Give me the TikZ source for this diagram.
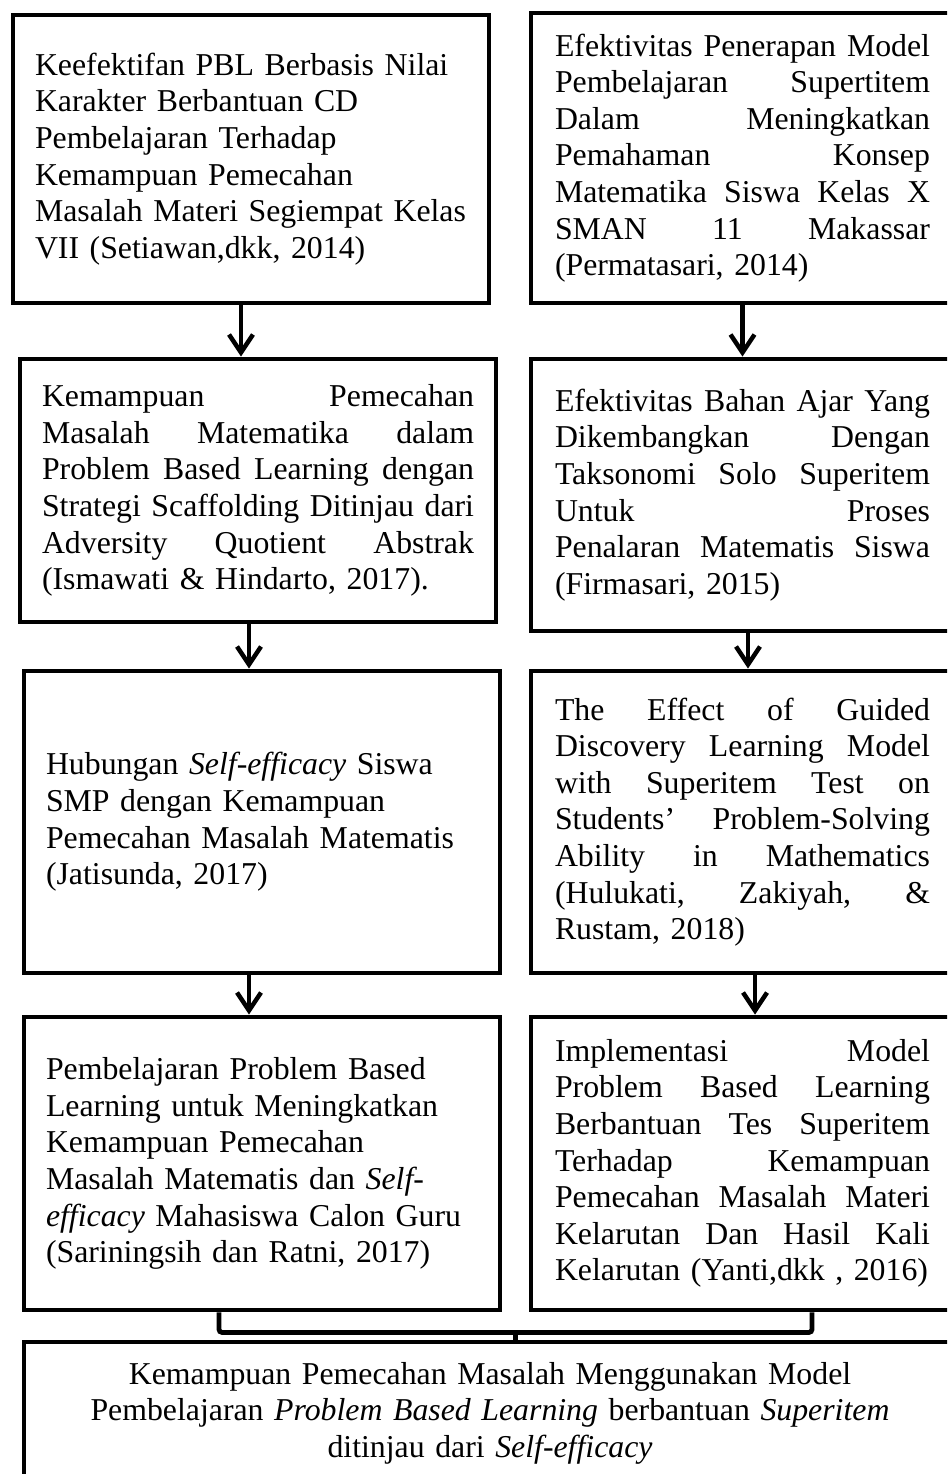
\documentclass[tikz,border=0pt]{standalone}
\usepackage{fontspec}
\setmainfont{Liberation Serif}
\usepackage{tikz}
\usetikzlibrary{calc}
\usetikzlibrary{arrows.meta}

\newcommand{\jline}[1]{\makebox[\hsize][s]{\spaceskip=0pt\relax\xspaceskip=0pt\relax#1}\\}

\tikzset{
	paper/.style={draw, rectangle, line width=4.8pt, align=left,
		font=\fontsize{31.8pt}{36.6pt}\selectfont},
	lbox/.style={paper, text width=432pt, inner xsep=22pt, minimum width=476pt},
	rbox/.style={paper, text width=375pt, inner xsep=24pt, minimum width=423pt},
	flow/.style={line width=4.5pt, -{Straight Barb[length=18pt,width=24pt]}},
	joint/.style={line width=4.8pt, rounded corners=3pt}
}

\begin{document}
\begin{tikzpicture}[x=1pt,y=-1pt]
	\clip (0,0) rectangle (947,1474);
	% left column
	\node[lbox, minimum height=288pt] (L1) at (251,159)
	{
		Keefektifan PBL Berbasis Nilai\\
		Karakter Berbantuan CD\\
		Pembelajaran Terhadap\\
		Kemampuan Pemecahan\\
		Masalah Materi Segiempat Kelas\\
		VII (Setiawan,dkk, 2014)
	};
	\node[lbox, minimum height=263pt] (L2) at (258,490.5)
	{
		\jline{Kemampuan Pemecahan}
		\jline{Masalah Matematika dalam}
		\jline{Problem Based Learning dengan}
		\jline{Strategi Scaffolding Ditinjau dari}
		\jline{Adversity Quotient Abstrak}
		(Ismawati \& Hindarto, 2017).
	};
	\node[lbox, minimum height=302pt] (L3) at (262,822)
	{
		Hubungan \textit{Self-efficacy} Siswa\\
		SMP dengan Kemampuan\\
		Pemecahan Masalah Matematis\\
		(Jatisunda, 2017)
	};
	\node[lbox, minimum height=293pt] (L4) at (262,1163.5)
	{
		Pembelajaran Problem Based\\
		Learning untuk Meningkatkan\\
		Kemampuan Pemecahan\\
		Masalah Matematis dan \textit{Self-}\\
		\textit{efficacy} Mahasiswa Calon Guru\\
		(Sariningsih dan Ratni, 2017)
	};
	% right column
	\node[rbox, minimum height=290pt] (R1) at (742.5,158)
	{
		\jline{Efektivitas Penerapan Model}
		\jline{Pembelajaran Supertitem}
		\jline{Dalam Meningkatkan}
		\jline{Pemahaman Konsep}
		\jline{Matematika Siswa Kelas X}
		\jline{SMAN 11 Makassar}
		(Permatasari, 2014)
	};
	\node[rbox, minimum height=272pt] (R2) at (742.5,495)
	{
		\jline{Efektivitas Bahan Ajar Yang}
		\jline{Dikembangkan Dengan}
		\jline{Taksonomi Solo Superitem}
		\jline{Untuk Proses}
		\jline{Penalaran Matematis Siswa}
		(Firmasari, 2015)
	};
	\node[rbox, minimum height=302pt] (R3) at (742.5,822)
	{
		\jline{The Effect of Guided}
		\jline{Discovery Learning Model}
		\jline{with Superitem Test on}
		\jline{Students’ Problem-Solving}
		\jline{Ability in Mathematics}
		\jline{(Hulukati, Zakiyah, \&}
		Rustam, 2018)
	};
	\node[rbox, minimum height=293pt] (R4) at (742.5,1163.5)
	{
		\jline{Implementasi Model}
		\jline{Problem Based Learning}
		\jline{Berbantuan Tes Superitem}
		\jline{Terhadap Kemampuan}
		\jline{Pemecahan Masalah Materi}
		\jline{Kelarutan Dan Hasil Kali}
		Kelarutan (Yanti,dkk , 2016)
	};
	% result
	\node[paper, align=center, text width=884pt, inner xsep=24pt,
	minimum width=932pt, minimum height=142pt] (B) at (490,1413)
	{
		Kemampuan Pemecahan Masalah Menggunakan Model\\
		Pembelajaran \textit{Problem Based Learning} berbantuan \textit{Superitem}\\
		ditinjau dari \textit{Self-efficacy}
	};
	% arrows
	\coordinate (a1) at ([xshift=-10pt]L1.south);
	\coordinate (a2) at ([xshift=-9pt]L2.south);
	\coordinate (a3) at ([xshift=-13pt]L3.south);
	\coordinate (b1) at ([xshift=0pt]R1.south);
	\coordinate (b2) at ([xshift=5.5pt]R2.south);
	\coordinate (b3) at ([xshift=12.5pt]R3.south);
	\draw[flow] (a1) -- (a1 |- L2.north);
	\draw[flow] (a2) -- (a2 |- L3.north);
	\draw[flow] (a3) -- (a3 |- L4.north);
	\draw[flow] (b1) -- (b1 |- R2.north);
	\draw[flow] (b2) -- (b2 |- R3.north);
	\draw[flow] (b3) -- (b3 |- R4.north);
	% bracket
	\coordinate (bl) at ([xshift=-43pt]L4.south);
	\coordinate (br) at ([xshift=69.5pt]R4.south);
	\coordinate (jn) at ($(bl)!0.5!(br)+(0,20)$);
	\draw[joint] (bl) -- ++(0,20) -| (br);
	\draw[line width=4.8pt] (jn) -- (jn |- B.north);
\end{tikzpicture}
\end{document}
